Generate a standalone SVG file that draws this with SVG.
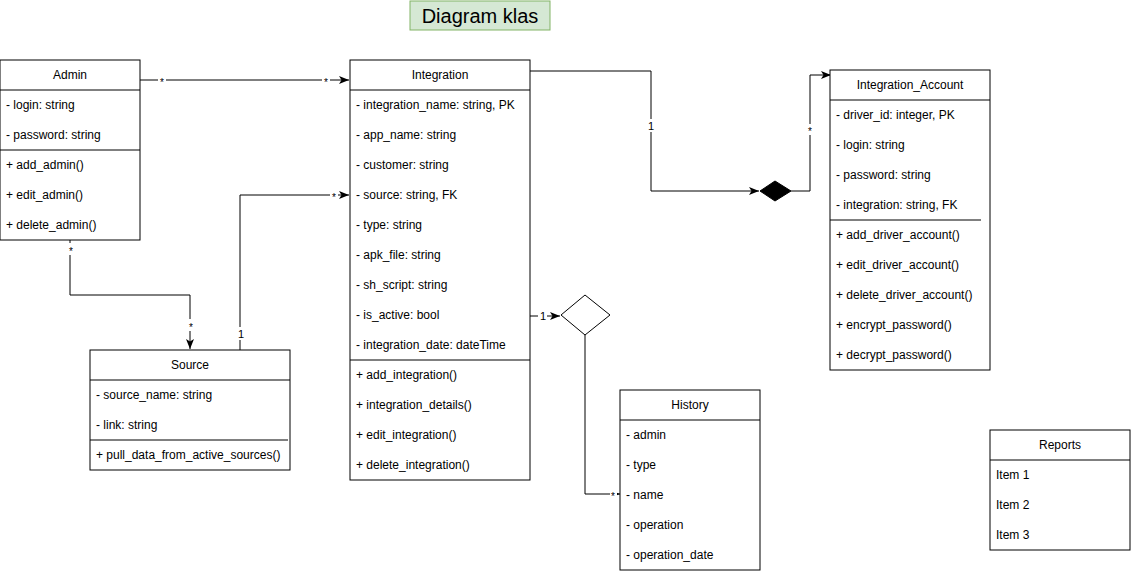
<svg xmlns="http://www.w3.org/2000/svg" width="1131" height="571" viewBox="0 0 1131 571">
<defs>
<style>
text{font-family:"Liberation Sans",Arial,sans-serif;font-size:12px;fill:#000}
.h{text-anchor:middle}
.box{fill:#fff;stroke:#000;stroke-width:1}
.ln{stroke:#000;stroke-width:1;fill:none}
.lbl{font-size:11px;text-anchor:middle}
.st{font-size:10px;text-anchor:middle}
.bg{fill:#fff}
</style>
<marker id="arr" viewBox="0 0 10 10" refX="10" refY="5" markerWidth="10" markerHeight="10" markerUnits="userSpaceOnUse" orient="auto">
<path d="M0,1 L10,5 L0,9 L2.5,5 Z" fill="#000"/>
</marker>
</defs>
<rect width="1131" height="571" fill="#fff"/>

<g id="title">
<rect x="410" y="1" width="140" height="29" fill="#d5e8d4" stroke="#82b366"/>
<text x="480" y="23" class="h" style="font-size:20px">Diagram klas</text>
</g>

<g id="connectors">
<path class="ln" d="M140,80 H349" marker-end="url(#arr)"/>
<rect class="bg" x="158" y="75" width="8" height="10"/>
<text class="st" x="162" y="86">*</text>
<rect class="bg" x="322" y="75" width="8" height="10"/>
<text class="st" x="326" y="86">*</text>

<path class="ln" d="M70,240 V295 H190 V349" marker-end="url(#arr)"/>
<rect class="bg" x="66" y="243" width="9" height="12"/>
<text class="st" x="71" y="255">*</text>
<rect class="bg" x="186" y="319" width="9" height="12"/>
<text class="st" x="191" y="331">*</text>

<path class="ln" d="M240,350 V195 H349" marker-end="url(#arr)"/>
<rect class="bg" x="236" y="327" width="10" height="13"/>
<text class="lbl" x="241" y="338">1</text>
<rect class="bg" x="330" y="190" width="8" height="10"/>
<text class="st" x="334" y="201">*</text>

<path class="ln" d="M530,71 H651 V191 H759" marker-end="url(#arr)"/>
<rect class="bg" x="646" y="119" width="10" height="13"/>
<text class="lbl" x="651" y="130">1</text>
<path class="ln" d="M791,191 H810 V75 H831" marker-end="url(#arr)"/>
<rect class="bg" x="806" y="124" width="8" height="11"/>
<text class="st" x="810" y="135">*</text>

<path class="ln" d="M530,316 H560" marker-end="url(#arr)"/>
<rect class="bg" x="538" y="310" width="9" height="13"/>
<text class="lbl" x="543" y="320">1</text>
<path class="ln" d="M585,335 V494 H620" marker-end="url(#arr)"/>
<rect class="bg" x="610" y="489" width="7" height="10"/>
<text class="st" x="613" y="500">*</text>

<path d="M760,191 L775,181 L791,191 L775,201 Z" fill="#000" stroke="#000"/>
<path d="M561,315 L585,295 L610,315 L585,335 Z" fill="#fff" stroke="#000"/>
</g>

<g id="admin">
<rect class="box" x="0" y="60" width="140" height="180"/>
<line class="ln" x1="0" y1="90" x2="140" y2="90"/>
<line class="ln" x1="0" y1="150" x2="140" y2="150"/>
<text x="70" y="79" class="h">Admin</text>
<text x="6" y="109">- login: string</text>
<text x="6" y="139">- password: string</text>
<text x="6" y="169">+ add_admin()</text>
<text x="6" y="199">+ edit_admin()</text>
<text x="6" y="229">+ delete_admin()</text>
</g>

<g id="integration">
<rect class="box" x="350" y="60" width="180" height="420"/>
<line class="ln" x1="350" y1="90" x2="530" y2="90"/>
<line class="ln" x1="350" y1="360" x2="530" y2="360"/>
<text x="440" y="79" class="h">Integration</text>
<text x="356" y="109">- integration_name: string, PK</text>
<text x="356" y="139">- app_name: string</text>
<text x="356" y="169">- customer: string</text>
<text x="356" y="199">- source: string, FK</text>
<text x="356" y="229">- type: string</text>
<text x="356" y="259">- apk_file: string</text>
<text x="356" y="289">- sh_script: string</text>
<text x="356" y="319">- is_active: bool</text>
<text x="356" y="349">- integration_date: dateTime</text>
<text x="356" y="379">+ add_integration()</text>
<text x="356" y="409">+ integration_details()</text>
<text x="356" y="439">+ edit_integration()</text>
<text x="356" y="469">+ delete_integration()</text>
</g>

<g id="integration_account">
<rect class="box" x="830" y="70" width="160" height="300"/>
<line class="ln" x1="830" y1="100" x2="990" y2="100"/>
<line class="ln" x1="830" y1="220" x2="981" y2="220"/>
<text x="910" y="89" class="h">Integration_Account</text>
<text x="836" y="119">- driver_id: integer, PK</text>
<text x="836" y="149">- login: string</text>
<text x="836" y="179">- password: string</text>
<text x="836" y="209">- integration: string, FK</text>
<text x="836" y="239">+ add_driver_account()</text>
<text x="836" y="269">+ edit_driver_account()</text>
<text x="836" y="299">+ delete_driver_account()</text>
<text x="836" y="329">+ encrypt_password()</text>
<text x="836" y="359">+ decrypt_password()</text>
</g>

<g id="source">
<rect class="box" x="90" y="350" width="200" height="120"/>
<line class="ln" x1="90" y1="380" x2="290" y2="380"/>
<line class="ln" x1="90" y1="440" x2="288" y2="440"/>
<text x="190" y="369" class="h">Source</text>
<text x="96" y="399">- source_name: string</text>
<text x="96" y="429">- link: string</text>
<text x="96" y="459">+ pull_data_from_active_sources()</text>
</g>

<g id="history">
<rect class="box" x="620" y="390" width="140" height="180"/>
<line class="ln" x1="620" y1="420" x2="760" y2="420"/>
<text x="690" y="409" class="h">History</text>
<text x="626" y="439">- admin</text>
<text x="626" y="469">- type</text>
<text x="626" y="499">- name</text>
<text x="626" y="529">- operation</text>
<text x="626" y="559">- operation_date</text>
</g>

<g id="reports">
<rect class="box" x="990" y="430" width="140" height="120"/>
<line class="ln" x1="990" y1="460" x2="1130" y2="460"/>
<text x="1060" y="449" class="h">Reports</text>
<text x="996" y="479">Item 1</text>
<text x="996" y="509">Item 2</text>
<text x="996" y="539">Item 3</text>
</g>
</svg>
